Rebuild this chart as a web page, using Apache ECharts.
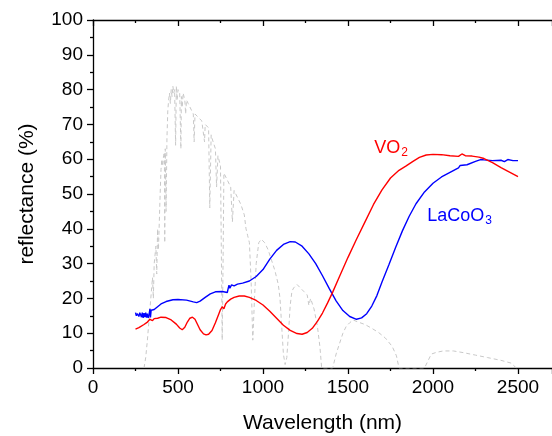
<!DOCTYPE html>
<html>
<head>
<meta charset="utf-8">
<script src="https://cdn.jsdelivr.net/npm/echarts@6/dist/echarts.min.js"></script>
<style>
html,body{margin:0;padding:0;background:#fff;}
#c{width:552px;height:436px;}
</style>
</head>
<body>
<div id="c"></div>
<script>
// x-axis: wavelength (nm), y-axis: reflectance (%)
var xTicks = [0, 500, 1000, 1500, 2000, 2500];
var yTicks = [0, 10, 20, 30, 40, 50, 60, 70, 80, 90, 100];

var vo2 = [
[250,11.2],[270,11.6],[300,12.5],[320,13.2],[335,14.0],[350,13.6],[360,14.2],[380,14.3],[400,14.6],[430,14.5],[460,13.8],[490,12.6],[510,11.5],[525,11.0],[540,11.7],[555,13.2],[570,14.3],[585,14.6],[600,14.0],[615,12.5],[630,11.0],[650,9.8],[665,9.5],[680,9.7],[700,10.8],[720,13.0],[740,15.5],[750,16.8],[760,17.6],[770,17.0],[780,18.4],[790,19.0],[800,18.6],[810,19.8],[830,20.3],[860,20.7],[890,20.7],[920,20.3],[960,19.4],[1000,18.1],[1040,16.3],[1080,14.3],[1120,12.3],[1160,10.8],[1200,9.9],[1230,9.7],[1260,10.2],[1290,11.4],[1320,13.4],[1350,15.8],[1380,18.7],[1410,21.8],[1450,26.3],[1500,31.8],[1550,37.0],[1600,42.0],[1650,47.0],[1700,51.2],[1750,54.6],[1800,56.8],[1840,58.0],[1880,59.3],[1920,60.5],[1960,61.2],[2000,61.4],[2050,61.3],[2100,61.0],[2150,60.8],[2170,61.5],[2190,61.0],[2230,60.9],[2270,60.6],[2300,60.2],[2350,59.0],[2400,57.6],[2450,56.3],[2500,55.0]
];

var lacoo3 = [
[250,15.9],[255,15.0],[260,15.6],[265,16.0],[270,14.8],[275,15.9],[280,15.3],[285,14.6],[290,15.9],[295,14.4],[300,15.8],[305,14.6],[310,15.9],[315,14.5],[320,15.6],[325,14.4],[330,15.4],[335,17.0],[338,14.5],[342,16.6],[345,16.2],[360,16.8],[380,17.6],[400,18.4],[430,19.1],[470,19.6],[500,19.7],[550,19.5],[590,19.0],[610,18.8],[630,19.2],[660,20.3],[690,21.3],[720,21.9],[760,22.0],[790,21.7],[795,22.8],[800,23.8],[805,22.9],[815,23.9],[830,23.6],[850,24.1],[880,24.4],[920,25.0],[960,26.3],[1000,28.3],[1040,31.3],[1080,33.8],[1120,35.5],[1160,36.3],[1190,36.2],[1230,35.0],[1270,32.8],[1310,30.0],[1350,26.5],[1390,22.8],[1430,19.3],[1470,16.5],[1510,14.8],[1550,14.0],[1580,14.4],[1610,15.6],[1640,17.8],[1670,20.8],[1700,24.7],[1740,29.6],[1780,34.6],[1820,39.4],[1860,43.6],[1900,47.2],[1950,50.6],[2000,53.1],[2050,54.9],[2100,56.2],[2150,57.5],[2160,58.2],[2170,57.7],[2200,58.4],[2250,59.4],[2280,59.9],[2300,59.8],[2350,59.6],[2400,59.7],[2420,59.3],[2440,59.9],[2470,59.6],[2500,59.6]
];

var solar = [
[300,0],[310,3],[320,8],[330,14],[340,20],[350,26],[355,20],[360,30],[370,35],[375,27],[380,40],[385,34],[390,42],[395,50],[400,57],[405,60],[410,58],[415,61],[420,62],[422,36],[425,63],[430,45],[435,66],[440,74],[445,77],[450,79],[455,76],[460,80],[465,78],[470,81],[475,79],[480,80],[486,64],[490,81],[495,77],[500,80],[510,79],[517,63],[520,78],[525,75],[530,79],[540,77],[545,73],[550,77],[560,76],[570,75],[580,74],[590,73],[595,65],[600,73],[620,72],[640,71],[656,65],[660,70],[680,69],[687,46],[695,67],[700,66],[720,63],[727,52],[735,61],[750,58],[760,8],[765,30],[770,56],[790,54],[810,52],[820,42],[830,51],[850,49],[870,47],[890,44],[900,40],[910,38],[920,36],[930,25],[940,8],[950,20],[960,30],[975,36],[990,37],[1010,36],[1030,34],[1050,31],[1070,28],[1090,24],[1100,20],[1110,12],[1120,4],[1130,1],[1140,3],[1150,10],[1160,18],[1170,22],[1180,23],[1200,24],[1220,23],[1240,22],[1260,21],[1270,18],[1280,20],[1300,17],[1320,12],[1335,6],[1345,0],[1410,0],[1420,2],[1430,4],[1450,7],[1470,10],[1490,12],[1510,13],[1530,13.8],[1560,13.2],[1600,12.5],[1640,11.4],[1680,10.2],[1720,8.6],[1760,6.2],[1785,3.5],[1800,0],[1950,0],[1970,2],[1990,4],[2020,4.5],[2060,4.9],[2120,4.9],[2180,4.4],[2250,3.7],[2320,3.0],[2400,2.2],[2460,1.4],[2490,0]
];

var FONT = '"Liberation Sans", Arial, sans-serif';
var chart = echarts.init(document.getElementById('c'), null, {renderer: 'canvas'});

var option = {
  animation: false,
  backgroundColor: '#ffffff',
  grid: {left: 93, right: 0, top: 20, bottom: 68, containLabel: false, outerBoundsMode: 'none'},
  xAxis: [{
    type: 'value', min: 0, max: 2700, interval: 500, position: 'bottom',
    name: 'Wavelength (nm)', nameLocation: 'middle', nameGap: 45,
    nameTextStyle: {fontFamily: FONT, fontSize: 21, color: '#000'},
    axisLine: {show: true, onZero: false, lineStyle: {color: '#000', width: 1.3}},
    axisTick: {show: true, inside: false, length: 6, lineStyle: {color: '#000', width: 1.3}},
    minorTick: {show: true, splitNumber: 2, length: 3, lineStyle: {color: '#000', width: 1.3}},
    axisLabel: {fontFamily: FONT, fontSize: 19, color: '#000', margin: 10, showMaxLabel: false,
      formatter: function (v) { return xTicks.indexOf(v) >= 0 ? String(v) : ''; }},
    splitLine: {show: false}
  }, {
    type: 'value', min: 0, max: 2700, interval: 500, position: 'top',
    axisLine: {show: true, onZero: false, lineStyle: {color: '#000', width: 1.3}},
    axisTick: {show: true, inside: true, length: 6, lineStyle: {color: '#000', width: 1.3}},
    minorTick: {show: true, splitNumber: 2, length: 3, lineStyle: {color: '#000', width: 1.3}},
    axisLabel: {show: false},
    splitLine: {show: false}
  }],
  yAxis: [{
    type: 'value', min: 0, max: 100, interval: 10,
    name: 'reflectance (%)', nameLocation: 'middle', nameGap: 55, nameRotate: 90,
    nameTextStyle: {fontFamily: FONT, fontSize: 21, color: '#000'},
    axisLine: {show: true, onZero: false, lineStyle: {color: '#000', width: 1.3}},
    axisTick: {show: true, inside: false, length: 6, lineStyle: {color: '#000', width: 1.3}},
    minorTick: {show: true, splitNumber: 2, length: 3, lineStyle: {color: '#000', width: 1.3}},
    axisLabel: {fontFamily: FONT, fontSize: 19, color: '#000', margin: 10,
      formatter: function (v) { return yTicks.indexOf(v) >= 0 ? String(v) : ''; }},
    splitLine: {show: false}
  }],
  series: [{
    name: 'solar', type: 'line', data: solar, showSymbol: false, symbol: 'none',
    lineStyle: {color: '#c8c8c8', width: 1, type: [4, 3]}, z: 1, silent: true
  }, {
    name: 'VO2', type: 'line', data: vo2, showSymbol: false, symbol: 'none',
    lineStyle: {color: '#ff0000', width: 1.4}, z: 3,
    markPoint: {
      symbol: 'circle', symbolSize: 0, silent: true,
      data: [{coord: [1655, 63.2]}],
      label: {show: true, position: 'right', distance: 0,
        formatter: '{a|VO}{b|2}',
        rich: {a: {fontFamily: FONT, fontSize: 18, color: '#ff0000'},
               b: {fontFamily: FONT, fontSize: 12, color: '#ff0000', padding: [10, 0, 0, 1]}}}
    }
  }, {
    name: 'LaCoO3', type: 'line', data: lacoo3, showSymbol: false, symbol: 'none',
    lineStyle: {color: '#0000ff', width: 1.4}, z: 2,
    markPoint: {
      symbol: 'circle', symbolSize: 0, silent: true,
      data: [{coord: [1966, 43.7]}],
      label: {show: true, position: 'right', distance: 0,
        formatter: '{a|LaCoO}{b|3}',
        rich: {a: {fontFamily: FONT, fontSize: 18, color: '#0000ff'},
               b: {fontFamily: FONT, fontSize: 12, color: '#0000ff', padding: [10, 0, 0, 1]}}}
    }
  }]
};
chart.setOption(option);
</script>
</body>
</html>
